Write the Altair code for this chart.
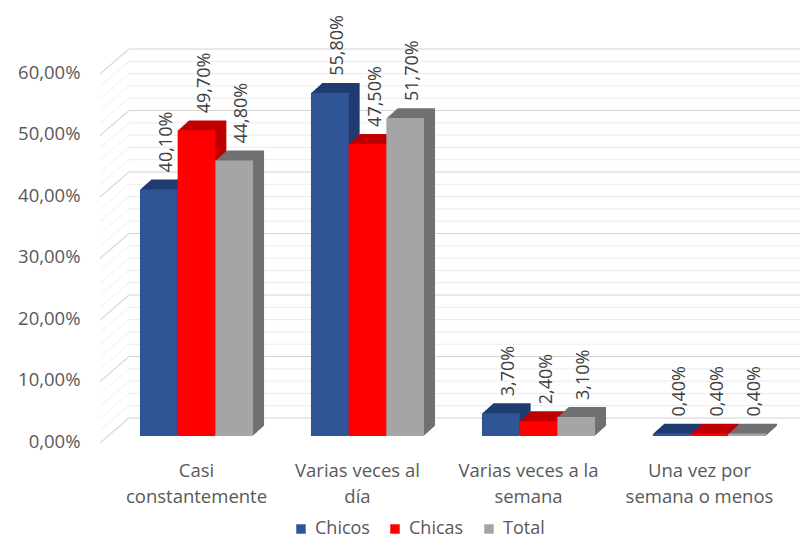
import altair as alt
import pandas as pd

# ---------------- data ----------------
categories = ["Casi constantemente", "Varias veces al día",
              "Varias veces a la semana", "Una vez por semana o menos"]
label_lines = [["Casi", "constantemente"], ["Varias veces al", "día"],
               ["Varias veces a la", "semana"], ["Una vez por", "semana o menos"]]
series = ["Chicos", "Chicas", "Total"]
chicos = [40.1, 55.8, 3.7, 0.4]
chicas = [49.7, 47.5, 2.4, 0.4]
total = [44.8, 51.7, 3.1, 0.4]
y_ticks = [0, 10, 20, 30, 40, 50, 60]
grid_values = list(range(0, 62, 2))

front_colors = ["#2F5597", "#FF0000", "#A5A5A5"]
side_colors = ["#1F3B70", "#C00000", "#707070"]

rows = []
for s, vals in zip(series, [chicos, chicas, total]):
    for c, v in zip(categories, vals):
        rows.append({"categoria": c, "serie": s, "valor": v})
df = pd.DataFrame(rows)
grid_df = pd.DataFrame({"v": grid_values})

FONT = "Open Sans"
TXT = "#595959"
W, H = 684, 369
BAR_W = 37.7
DEPTH = 11

x_scale = alt.Scale(domain=categories, paddingInner=0.34, paddingOuter=0.17)
y_scale = alt.Scale(domain=[0, 60], nice=False, zero=True)

lab_expr = ""
for c, lines in zip(categories, label_lines):
    lab_expr += "datum.value == '%s' ? [%s] : " % (c, ", ".join("'%s'" % l for l in lines))
lab_expr += "datum.value"

pct_expr = "replace(format(datum.value, '.2f'), '.', ',') + '%'"

x_axis = alt.Axis(title=None, domain=False, ticks=False, grid=False, labelAngle=0,
                  labelExpr=lab_expr, labelFont=FONT, labelFontSize=18.5, labelColor=TXT,
                  labelPadding=25, labelLineHeight=26,
                  labelOffset={"condition": {"test": "datum.value == '%s'" % categories[0],
                                             "value": 0}, "value": -10})
y_axis = alt.Axis(title=None, domain=False, ticks=False, grid=False, values=y_ticks,
                  labelExpr=pct_expr, labelFont=FONT, labelFontSize=18.5, labelColor=TXT,
                  labelPadding=31, labelOffset=5)

X = alt.X("categoria:N", scale=x_scale)
Y = alt.Y("valor:Q", scale=y_scale)

layers = []

# axes carrier (invisible bars)
layers.append(alt.Chart(df).mark_bar(opacity=0).encode(
    x=alt.X("categoria:N", scale=x_scale, axis=x_axis),
    y=alt.Y("valor:Q", scale=y_scale, axis=y_axis)))

# back wall gridlines
grid_base = alt.Chart(grid_df)
GY = alt.Y("v:Q", scale=y_scale)
layers.append(grid_base.transform_filter("datum.v % 10 != 0").mark_rule(
    yOffset=-18, color="#EBEBEB", strokeWidth=1).encode(
    y=GY, x=alt.value(18), x2=alt.value(W + 10)))
layers.append(grid_base.transform_filter("datum.v % 10 == 0").mark_rule(
    yOffset=-18, color="#D4D4D4", strokeWidth=1.2).encode(
    y=GY, x=alt.value(18), x2=alt.value(W + 10)))
# side wall diagonals
layers.append(grid_base.transform_filter("datum.v % 10 != 0").mark_rule(
    yOffset=7, y2Offset=-18, color="#F0F0F0", strokeWidth=1).encode(
    y=GY, y2="v:Q", x=alt.value(-11), x2=alt.value(18)))
layers.append(grid_base.transform_filter("datum.v % 10 == 0").mark_rule(
    yOffset=7, y2Offset=-18, color="#DADADA", strokeWidth=1.2).encode(
    y=GY, y2="v:Q", x=alt.value(-11), x2=alt.value(18)))

legend = alt.Legend(title=None, orient="none", legendX=181, legendY=453,
                    direction="horizontal", symbolType="square", symbolSize=90,
                    symbolStrokeWidth=0, labelFont=FONT, labelFontSize=18,
                    labelColor=TXT, columnPadding=16, labelOffset=5)

for j, s in enumerate(series):
    base = (j - 1) * BAR_W
    sub = alt.Chart(df).transform_filter(alt.datum.serie == s)
    for i in range(1, DEPTH + 1):
        d = i * 0.9
        layers.append(sub.mark_bar(width=BAR_W, xOffset=base + i, yOffset=-d, y2Offset=-d,
                                   color=side_colors[j]).encode(x=X, y=Y))
    layers.append(sub.mark_bar(width=BAR_W, xOffset=base).encode(
        x=X, y=Y,
        color=alt.Color("serie:N", scale=alt.Scale(domain=series, range=front_colors),
                        legend=legend)))

for j, s in enumerate(series):
    base = (j - 1) * BAR_W
    layers.append(alt.Chart(df).transform_filter(alt.datum.serie == s).transform_calculate(
        lab="replace(format(datum.valor, '.2f'), '.', ',') + '%'").mark_text(
        angle=270, align="left", baseline="middle", dx=17, xOffset=base + 8,
        font=FONT, fontSize=18, color="#404040").encode(
        x=X, y=Y, text="lab:N"))

chart = alt.layer(*layers).properties(
    width=W, height=H,
    autosize=alt.AutoSizeParams(type="none"),
    padding={"left": 103, "top": 59, "right": 5, "bottom": 104},
    background="white",
).configure_view(stroke=None)

chart.save("out.html", embed_options={"renderer": "svg", "actions": False})
